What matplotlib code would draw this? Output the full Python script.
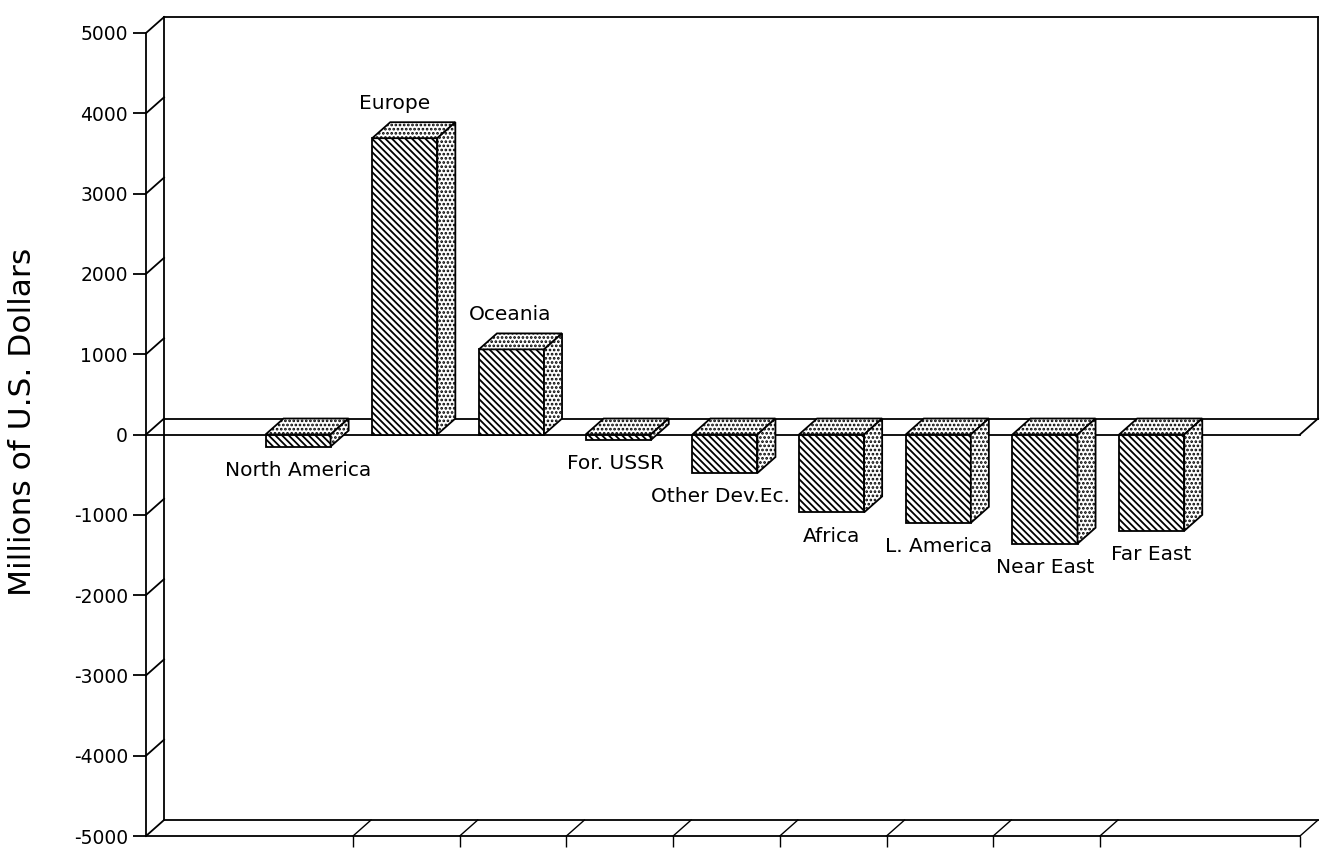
import matplotlib
matplotlib.use("Agg")
import matplotlib.pyplot as plt
from matplotlib.patches import Polygon

# ---------------- data ----------------
regions = ["North America", "Europe", "Oceania", "For. USSR", "Other Dev.Ec.",
           "Africa", "L. America", "Near East", "Far East"]
values = [-150, 3690, 1060, -70, -480, -970, -1100, -1360, -1200]
yticks = [-5000, -4000, -3000, -2000, -1000, 0, 1000, 2000, 3000, 4000, 5000]
ytick_labels = ["-5000", "-4000", "-3000", "-2000", "-1000", "0",
                "1000", "2000", "3000", "4000", "5000"]
ylabel = "Millions of U.S. Dollars"

# ---------------- style ----------------
plt.rcParams["font.family"] = ["DejaVu Sans"]
plt.rcParams["hatch.linewidth"] = 1.3
LW = 1.3
XLIM = (-0.94, 9.875)
YLIM = (-5000, 5000)
DX = 0.169      # depth offset in slot units
DY = 199        # depth offset in value units
BAR_OFF = 0.18
BAR_W = 0.61
label_dx_pt = [0, -7, -1, -2, -3, 0, 0, 0, 0]
FRONT_HATCH = "\\" * 5
SIDE_HATCH = "...."

fig = plt.figure(figsize=(13.2, 8.5), dpi=100)
ax = fig.add_axes([146 / 1320, 14 / 850, 1154 / 1320, 803 / 850])
ax.set_xlim(*XLIM)
ax.set_ylim(*YLIM)

for s in ("top", "right"):
    ax.spines[s].set_visible(False)
for s in ("left", "bottom"):
    ax.spines[s].set_linewidth(LW)

ax.set_yticks(yticks)
ax.set_yticklabels(ytick_labels, fontsize=13.5)
ax.tick_params(axis="y", length=9.5, width=LW, pad=3.5, direction="out")

edges = list(range(1, len(regions))) + [XLIM[1]]
ax.set_xticks(edges)
ax.set_xticklabels([])
ax.tick_params(axis="x", length=8, width=1.0, direction="out")

kw = dict(color="black", lw=LW, clip_on=False, zorder=1)
L, R = XLIM
# back wall
ax.plot([L + DX, L + DX], [YLIM[0] + DY, YLIM[1] + DY], **kw)
ax.plot([L + DX, R + DX], [YLIM[1] + DY, YLIM[1] + DY], **kw)
ax.plot([R + DX, R + DX], [YLIM[1] + DY, DY], **kw)
# y-tick diagonals
for t in yticks:
    ax.plot([L, L + DX], [t, t + DY], **kw)
# floor
ax.plot([L + DX, R + DX], [YLIM[0] + DY, YLIM[0] + DY], **kw)
for e in edges:
    ax.plot([e, e + DX], [YLIM[0], YLIM[0] + DY], color="black", lw=1.0,
            clip_on=False, zorder=1)
# zero plane
ax.plot([L, R], [0, 0], **kw)
ax.plot([L + DX, R + DX], [DY, DY], **kw)
ax.plot([R, R + DX], [0, DY], **kw)

# bars
for i, (name, v) in enumerate(zip(regions, values)):
    x0 = i + BAR_OFF
    x1 = x0 + BAR_W
    top = max(0, v)
    bot = min(0, v)
    front = Polygon([(x0, bot), (x1, bot), (x1, top), (x0, top)], closed=True,
                    facecolor="white", edgecolor="black", lw=LW,
                    hatch=FRONT_HATCH, zorder=3)
    topf = Polygon([(x0, top), (x1, top), (x1 + DX, top + DY), (x0 + DX, top + DY)],
                   closed=True, facecolor="white", edgecolor="black", lw=LW,
                   hatch=SIDE_HATCH, zorder=3)
    side = Polygon([(x1, bot), (x1 + DX, bot + DY), (x1 + DX, top + DY), (x1, top)],
                   closed=True, facecolor="white", edgecolor="black", lw=LW,
                   hatch=SIDE_HATCH, zorder=3)
    for p in (front, topf, side):
        ax.add_patch(p)
    cx = (x0 + x1) / 2
    if v >= 0:
        ax.annotate(name, (cx, v), xytext=(label_dx_pt[i], 25),
                    textcoords="offset points", ha="center", va="center",
                    fontsize=14.5, zorder=5)
    else:
        ax.annotate(name, (cx, v), xytext=(label_dx_pt[i], -17),
                    textcoords="offset points", ha="center", va="center",
                    fontsize=14.5, zorder=5)

fig.text(23 / 1320, 1 - 422 / 850, ylabel, rotation=90, ha="center",
         va="center", fontsize=22.5)

fig.savefig("out.png", dpi=100, facecolor="white")
